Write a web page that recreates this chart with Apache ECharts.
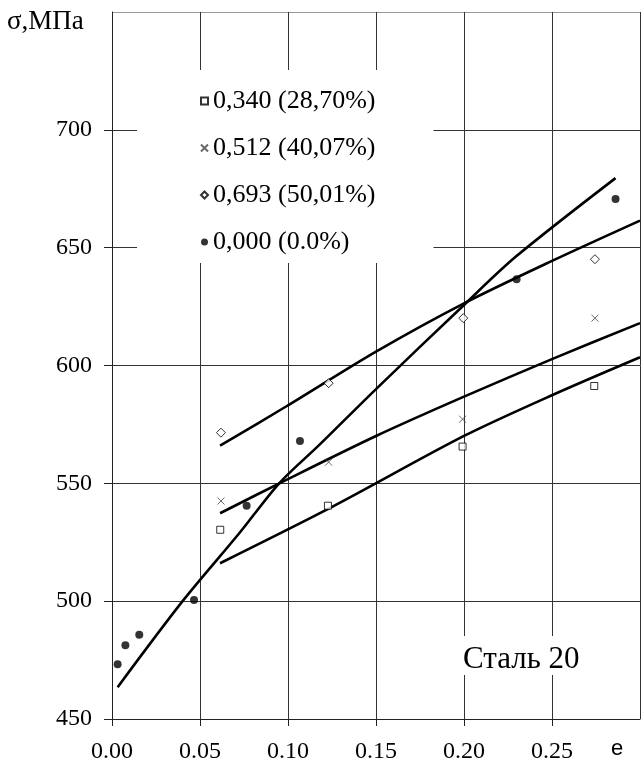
<!DOCTYPE html>
<html lang="ru">

<head>
    <meta charset="UTF-8">
    <!--echarts-->
    <script src="https://cdn.jsdelivr.net/npm/echarts@6/dist/echarts.min.js"></script>
    <title>Сталь 20</title>
    <style>
        html, body { margin: 0; padding: 0; background: #fff; }
        #chart { width: 641px; height: 772px; }
    </style>
</head>

<body>
    <div id="chart"></div>

    <script>
        // подписи легенды
        var names = ['0,340 (28,70%)', '0,512 (40,07%)', '0,693 (50,01%)', '0,000 (0.0%)'];

        // экспериментальные точки [e, σ]
        var pts340 = [[0.0615, 530.3], [0.1227, 540.5], [0.1992, 565.6], [0.274, 591.3]];
        var pts512 = [[0.0619, 542.5], [0.1231, 559.0], [0.1992, 577.2], [0.2744, 620.1]];
        var pts693 = [[0.0619, 571.5], [0.1231, 592.5], [0.1996, 620.1], [0.2744, 645.1]];
        var pts000 = [[0.0032, 473.2], [0.0076, 481.3], [0.0155, 485.7], [0.0466, 500.5],
                      [0.0765, 540.5], [0.1068, 568.0], [0.2299, 636.6], [0.2861, 670.6]];

        // аппроксимирующие кривые
        var fit340 = [[0.0614, 516.1], [0.1253, 540.1], [0.2, 570.1], [0.2503, 587.5], [0.30, 603.5]];
        var fit512 = [[0.0614, 537.3], [0.0951, 550.0], [0.15, 570.1], [0.2, 586.8],
                      [0.2503, 602.8], [0.30, 618.0]];
        var fit693 = [[0.0614, 566.0], [0.0989, 582.6], [0.15, 605.9], [0.2, 626.4],
                      [0.2503, 644.5], [0.30, 661.5]];
        var fit000 = [[0.0032, 463.5], [0.0401, 500.0], [0.0723, 528.8], [0.095, 550.0],
                      [0.1178, 566.3], [0.15, 590.0], [0.2, 625.7], [0.2295, 646.2],
                      [0.2861, 679.5]];

        // оси
        var xMin = 0, xMax = 0.30, xStep = 0.05;
        var yMin = 450, yMax = 750, yStep = 50;

        var serif = '"Liberation Serif", "DejaVu Serif", serif';
        var gridColors = ['#333', '#333', '#333', '#333', '#333', '#333', '#999'];

        function fitLine(data) {
            return {
                type: 'line',
                data: data,
                smooth: 0.3,
                showSymbol: false,
                silent: true,
                z: 3,
                lineStyle: { color: '#000', width: 2.6 }
            };
        }

        var myChart = echarts.init(document.getElementById('chart'));
        var option = {
            animation: false,
            grid: { left: 112, right: 1, top: 12, bottom: 53 },
            xAxis: {
                type: 'value',
                min: xMin,
                max: xMax,
                interval: xStep,
                axisLine: { lineStyle: { color: '#222', width: 1 } },
                axisTick: { length: 7, lineStyle: { color: '#222' } },
                splitLine: { show: true, lineStyle: { color: '#333', width: 1 } },
                axisLabel: {
                    showMaxLabel: false,
                    margin: 21,
                    color: '#000',
                    fontFamily: serif,
                    fontSize: 24,
                    formatter: function (v) { return v.toFixed(2); }
                }
            },
            yAxis: {
                type: 'value',
                min: yMin,
                max: yMax,
                interval: yStep,
                axisLine: { show: true, lineStyle: { color: '#222', width: 1 } },
                axisTick: { show: true, length: 8, lineStyle: { color: '#222' } },
                splitLine: { show: true, lineStyle: { color: gridColors, width: 1 } },
                axisLabel: {
                    showMaxLabel: false,
                    margin: 20,
                    color: '#000',
                    fontFamily: serif,
                    fontSize: 24
                }
            },
            legend: {
                data: names,
                orient: 'vertical',
                left: 137,
                top: 70,
                backgroundColor: '#fff',
                padding: [18, 58, 8, 63],
                itemGap: 21,
                itemWidth: 7,
                itemHeight: 7,
                selectedMode: false,
                textStyle: { color: '#000', fontFamily: serif, fontSize: 26, lineHeight: 26 }
            },
            graphic: [
                {
                    type: 'text', z: 10, left: 7, top: 8,
                    style: { text: 'σ,МПа', font: '27px ' + serif, fill: '#000' }
                },
                {
                    type: 'text', z: 10, left: 611, top: 738,
                    style: { text: 'e', font: '22px "Liberation Sans", Arial, sans-serif', fill: '#000' }
                },
                {
                    type: 'rect', z: 10,
                    shape: { x: 458, y: 636, width: 132, height: 39 },
                    style: { fill: '#fff' }
                },
                {
                    type: 'text', z: 11, left: 463, top: 644,
                    style: { text: 'Сталь 20', font: '31px ' + serif, fill: '#000' }
                }
            ],
            series: [
                fitLine(fit340),
                fitLine(fit512),
                fitLine(fit693),
                fitLine(fit000),
                {
                    name: names[0],
                    type: 'scatter',
                    data: pts340,
                    symbol: 'rect',
                    symbolSize: 7,
                    z: 4,
                    itemStyle: { color: '#fff', borderColor: '#000', borderWidth: 1 }
                },
                {
                    name: names[1],
                    type: 'scatter',
                    data: pts512,
                    symbol: 'path://M0,0L10,10M10,0L0,10',
                    symbolSize: 7,
                    z: 4,
                    itemStyle: { color: '#444', borderColor: '#444', borderWidth: 1 }
                },
                {
                    name: names[2],
                    type: 'scatter',
                    data: pts693,
                    symbol: 'diamond',
                    symbolSize: 9,
                    z: 4,
                    itemStyle: { color: '#fff', borderColor: '#000', borderWidth: 1 }
                },
                {
                    name: names[3],
                    type: 'scatter',
                    data: pts000,
                    symbol: 'circle',
                    symbolSize: 8,
                    z: 4,
                    itemStyle: { color: '#000' }
                }
            ]
        };
        myChart.setOption(option);
    </script>

</body>

</html>
